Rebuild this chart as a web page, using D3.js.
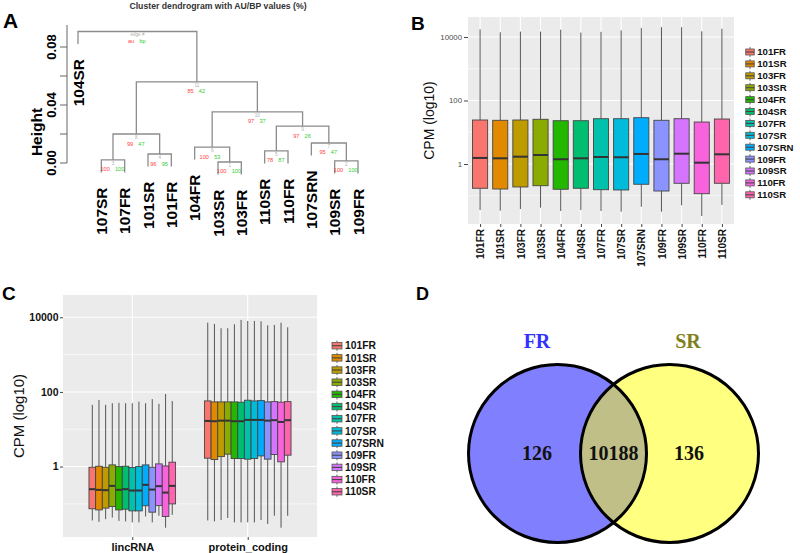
<!DOCTYPE html>
<html><head><meta charset="utf-8">
<script src="https://cdn.jsdelivr.net/npm/d3@7"></script>
<style>body{margin:0;background:#fff}svg{display:block}</style>
</head><body>
<svg id="c" width="800" height="553"></svg>
<script>
// ---------------- DATA ----------------
const samples = ["101FR","101SR","103FR","103SR","104FR","104SR","107FR","107SR","107SRN","109FR","109SR","110FR","110SR"];
const sampleColors = ["#F8766D","#E18A00","#BE9C00","#8CAB00","#24B700","#00BE70","#00C1AB","#00BBDA","#00ACFC","#8B93FF","#D575FE","#F962DD","#FF65AC"];

// Panel A: dendrogram
const dendroLeaves = ["104SR","107SR","107FR","101SR","101FR","104FR","103SR","103FR","110SR","110FR","107SRN","109SR","109FR"];
const mergeLeft   = ["103SR","109SR","107SR","101SR","110SR","104FR","107SRN",3,5,6,8,"104SR"];
const mergeRight  = ["103FR","109FR","107FR","101FR","110FR",1,2,4,7,9,10,11];
const mergeHeight = [0.0007,0.0014,0.0021,0.0062,0.0083,0.0110,0.0138,0.0200,0.0255,0.0352,0.0559,0.0907];
const mergeAU     = ["100","100","100","96","78","100","95","99","97","97","85","au"];
const mergeBP     = ["100","100","100","95","87","53","47","47","26","37","42","bp"];
const mergeEdge   = ["1","2","3","4","5","6","7","8","9","10","11","edge #"];
const heightTicks = [0,0.02,0.04,0.06,0.08];
const heightLabels = [0,0.04,0.08];

// Panel B: CPM per sample (log10 scale)
const bUpper = [17400,14100,14800,14800,17000,13800,14500,16200,19100,20400,20400,15100,18200];
const bQ3    = [24.3,23.8,24.3,25.6,23.1,23.1,26.7,26.7,28.7,23.8,26.7,21.0,26.1];
const bMed   = [1.55,1.51,1.70,1.92,1.41,1.51,1.66,1.63,2.07,1.41,2.11,1.10,2.02];
const bQ1    = [0.172,0.163,0.189,0.207,0.160,0.172,0.155,0.152,0.230,0.141,0.247,0.116,0.247];
const bLower = [0.0356,0.0338,0.0383,0.0421,0.0331,0.0356,0.0331,0.0315,0.0452,0.0315,0.050,0.023,0.0512];
const cpmMajor = [1,100,10000];
const cpmMinor = [0.1,10,1000];

// Panel C: CPM per biotype per sample
const biotypes = ["lincRNA","protein_coding"];
const lincUpper = [45,61,45,50,51,50,50,55,50,64,48,88,57];
const lincQ3    = [0.96,1.02,0.96,1.11,1.0,1.02,0.94,1.0,1.11,0.96,1.18,1.04,1.31];
const lincMed   = [0.248,0.238,0.233,0.304,0.238,0.248,0.228,0.228,0.324,0.242,0.299,0.201,0.304];
const lincQ1    = [0.074,0.069,0.077,0.085,0.069,0.072,0.065,0.065,0.089,0.060,0.090,0.046,0.100];
const lincLower = [0.036,0.033,0.039,0.043,0.035,0.034,0.032,0.032,0.046,0.032,0.048,0.023,0.051];
const pcUpper = [7170,6620,5080,5080,6500,8470,7960,7960,7820,6110,6220,7170,5400];
const pcQ3    = [57.4,54,54,54,54,53,59.9,57.4,58.5,54,55,53,55];
const pcMed   = [16.7,16.4,17.0,17.0,16.4,16.4,17.8,17.8,17.8,17.0,17.5,15.7,17.5];
const pcQ1    = [1.68,1.54,1.85,2.15,1.64,1.64,1.58,1.64,1.93,1.58,2.10,1.34,2.02];
const pcLower = [0.036,0.034,0.037,0.042,0.032,0.032,0.032,0.032,0.037,0.029,0.048,0.023,0.048];

// Panel D: Venn
const vennSets = ["FR","SR"];
const vennCounts = [126,10188,136]; // FR only, both, SR only

// ---------------- DRAW ----------------
const SANS = "'Liberation Sans', Arial, sans-serif";
const SERIF = "'Liberation Serif', 'Times New Roman', serif";
const svg = d3.select("#c");

function panelLetter(t,x,y,size){
  svg.append("text").attr("x",x).attr("y",y).text(t)
    .attr("font-family",SANS).attr("font-weight","bold").attr("font-size",size).attr("fill","#000");
}

// ===== Panel A =====
(function(){
  const g = svg.append("g");
  const x = d3.scalePoint().domain(dendroLeaves).range([78,358]);
  const y = d3.scaleLinear().domain([0,0.08]).range([163,47]);
  const hang = 0.0086;
  const nodeX = {}, nodeH = {}, leafEnd = {};
  const lineCol = "#8c8c8c";
  mergeHeight.forEach((h,i)=>{
    const id = i+1;
    const kids = [mergeLeft[i], mergeRight[i]].map(c=>{
      if (typeof c === "string") { leafEnd[c] = h - hang; return {x:x(c), bottom:h-hang}; }
      return {x:nodeX[c], bottom:nodeH[c]};
    });
    nodeX[id] = (kids[0].x + kids[1].x)/2; nodeH[id] = h;
    g.append("path")
      .attr("d", `M${kids[0].x},${y(kids[0].bottom)}V${y(h)}H${kids[1].x}V${y(kids[1].bottom)}`)
      .attr("fill","none").attr("stroke",lineCol).attr("stroke-width",1.3);
    const cx = nodeX[id], cy = y(h);
    g.append("text").attr("x",cx-3.2).attr("y",cy+11.5).attr("text-anchor","end").text(mergeAU[i])
      .attr("font-family",SANS).attr("font-size",5.6).attr("fill","#ff4040");
    g.append("text").attr("x",cx+2).attr("y",cy+11.5).attr("text-anchor","start").text(mergeBP[i])
      .attr("font-family",SANS).attr("font-size",5.6).attr("fill","#33cc33");
    g.append("text").attr("x",cx).attr("y",cy+5).attr("text-anchor","middle").text(mergeEdge[i])
      .attr("font-family",SANS).attr("font-size",4.6).attr("fill","#b0b0b0");
  });
  // leaf labels
  dendroLeaves.forEach(l=>{
    g.append("text").attr("transform",`translate(${x(l)},${y(leafEnd[l])+15}) rotate(-90)`)
      .attr("text-anchor","end").attr("dy","0.36em").text(l)
      .attr("font-family",SANS).attr("font-weight","bold").attr("font-size",15.5).attr("fill","#000");
  });
  // axis
  const ax = g.append("g").attr("transform","translate(67,0)");
  ax.append("line").attr("x1",0).attr("x2",0).attr("y1",y(0)).attr("y2",25).attr("stroke","#666").attr("stroke-width",1);
  heightTicks.forEach(t=>{
    ax.append("line").attr("x1",-7).attr("x2",0).attr("y1",y(t)).attr("y2",y(t)).attr("stroke","#666");
  });
  heightLabels.forEach(t=>{
    ax.append("text").attr("transform",`translate(-11,${y(t)}) rotate(-90)`).attr("text-anchor","middle")
      .text(d3.format(".2f")(t)).attr("font-family",SANS).attr("font-weight","bold").attr("font-size",13).attr("fill","#000");
  });
  g.append("text").attr("transform","translate(42,132) rotate(-90)").attr("text-anchor","middle").text("Height")
    .attr("font-family",SANS).attr("font-weight","bold").attr("font-size",15.5).attr("fill","#000");
  g.append("text").attr("x",218).attr("y",9).attr("text-anchor","middle").text("Cluster dendrogram with AU/BP values (%)")
    .attr("font-family",SANS).attr("font-weight","bold").attr("font-size",8.7).attr("fill","#333");
})();
panelLetter("A",3,28,21);

// ===== Boxplot helper =====
function drawBox(g, cx, w, y, lo, q1, med, q3, hi, color){
  g.append("line").attr("x1",cx).attr("x2",cx).attr("y1",y(hi)).attr("y2",y(q3)).attr("stroke","#555").attr("stroke-width",1);
  g.append("line").attr("x1",cx).attr("x2",cx).attr("y1",y(q1)).attr("y2",y(lo)).attr("stroke","#555").attr("stroke-width",1);
  g.append("rect").attr("x",cx-w/2).attr("y",y(q3)).attr("width",w).attr("height",y(q1)-y(q3))
    .attr("fill",color).attr("stroke","#444").attr("stroke-width",0.9);
  g.append("line").attr("x1",cx-w/2).attr("x2",cx+w/2).attr("y1",y(med)).attr("y2",y(med)).attr("stroke","#333").attr("stroke-width",2);
}
function legend(g, x0, y0, step, kw, kh, fs){
  samples.forEach((s,i)=>{
    const cy = y0 + i*step;
    g.append("line").attr("x1",x0).attr("x2",x0).attr("y1",cy-step/2+1).attr("y2",cy+step/2-1).attr("stroke","#666");
    g.append("rect").attr("x",x0-kw/2).attr("y",cy-kh/2).attr("width",kw).attr("height",kh)
      .attr("fill",sampleColors[i]).attr("stroke","#555").attr("stroke-width",0.8);
    g.append("line").attr("x1",x0-kw/2).attr("x2",x0+kw/2).attr("y1",cy).attr("y2",cy).attr("stroke","#444").attr("stroke-width",1.1);
    g.append("text").attr("x",x0+kw/2+3).attr("y",cy).attr("dy","0.36em").text(s)
      .attr("font-family",SANS).attr("font-weight","bold").attr("font-size",fs).attr("fill","#111");
  });
}

// ===== Panel B =====
(function(){
  const g = svg.append("g");
  const L=468,R=734,T=17,B=224;
  const x = d3.scalePoint().domain(samples).range([L,R]).padding(0.6);
  const y = d3.scaleLog().domain([Math.pow(10,-1.89),Math.pow(10,4.63)]).range([B,T]);
  g.append("rect").attr("x",L).attr("y",T).attr("width",R-L).attr("height",B-T).attr("fill","#EBEBEB");
  cpmMinor.forEach(v=>g.append("line").attr("x1",L).attr("x2",R).attr("y1",y(v)).attr("y2",y(v)).attr("stroke","#fff").attr("stroke-width",0.6));
  cpmMajor.forEach(v=>g.append("line").attr("x1",L).attr("x2",R).attr("y1",y(v)).attr("y2",y(v)).attr("stroke","#fff").attr("stroke-width",1.1));
  samples.forEach(s=>g.append("line").attr("x1",x(s)).attr("x2",x(s)).attr("y1",T).attr("y2",B).attr("stroke","#fff").attr("stroke-width",1.1));
  const w = x.step()*0.75;
  samples.forEach((s,i)=>drawBox(g,x(s),w,y,bLower[i],bQ1[i],bMed[i],bQ3[i],bUpper[i],sampleColors[i]));
  const ay = g.append("g").attr("transform",`translate(${L},0)`)
    .call(d3.axisLeft(y).tickValues(cpmMajor).tickFormat(d3.format("d")).tickSize(4).tickSizeOuter(0));
  ay.select(".domain").remove();
  ay.selectAll(".tick line").attr("stroke","#444");
  ay.selectAll(".tick text").attr("font-family",SANS).attr("font-size",7.8).attr("fill","#4d4d4d").attr("x",-6);
  const axb = g.append("g").attr("transform",`translate(0,${B})`)
    .call(d3.axisBottom(x).tickSize(3).tickSizeOuter(0));
  axb.select(".domain").remove();
  axb.selectAll(".tick line").attr("stroke","#444");
  axb.selectAll(".tick text").attr("transform","rotate(-90)").attr("text-anchor","end")
    .attr("x",-5).attr("y",0).attr("dy","0.36em")
    .attr("font-family",SANS).attr("font-weight","bold").attr("font-size",10).attr("fill","#111");
  g.append("text").attr("transform",`translate(434,${(T+B)/2}) rotate(-90)`).attr("text-anchor","middle").text("CPM (log10)")
    .attr("font-family",SANS).attr("font-size",14).attr("fill","#111");
  legend(g, 750, 52, 11.9, 8.5, 6, 9.6);
})();
panelLetter("B",411,30,19);

// ===== Panel C =====
(function(){
  const g = svg.append("g");
  const L=63,R=317,T=295,B=537;
  const x = d3.scalePoint().domain(biotypes).range([L,R]).padding(0.6);
  const y = d3.scaleLog().domain([Math.pow(10,-1.887),Math.pow(10,4.597)]).range([B,T]);
  g.append("rect").attr("x",L).attr("y",T).attr("width",R-L).attr("height",B-T).attr("fill","#EBEBEB");
  cpmMinor.forEach(v=>g.append("line").attr("x1",L).attr("x2",R).attr("y1",y(v)).attr("y2",y(v)).attr("stroke","#fff").attr("stroke-width",0.6));
  cpmMajor.forEach(v=>g.append("line").attr("x1",L).attr("x2",R).attr("y1",y(v)).attr("y2",y(v)).attr("stroke","#fff").attr("stroke-width",1.1));
  biotypes.forEach(b=>g.append("line").attr("x1",x(b)).attr("x2",x(b)).attr("y1",T).attr("y2",B).attr("stroke","#fff").attr("stroke-width",1.1));
  const gw = x.step()*0.75, bw = gw/samples.length;
  const sets = {
    lincRNA:[lincLower,lincQ1,lincMed,lincQ3,lincUpper],
    protein_coding:[pcLower,pcQ1,pcMed,pcQ3,pcUpper]
  };
  biotypes.forEach(b=>{
    const [lo,q1,md,q3,hi] = sets[b];
    samples.forEach((s,i)=>{
      const cx = x(b) - gw/2 + (i+0.5)*bw;
      drawBox(g,cx,bw,y,lo[i],q1[i],md[i],q3[i],hi[i],sampleColors[i]);
    });
  });
  const ay = g.append("g").attr("transform",`translate(${L},0)`)
    .call(d3.axisLeft(y).tickValues(cpmMajor).tickFormat(d3.format("d")).tickSize(3).tickSizeOuter(0));
  ay.select(".domain").remove();
  ay.selectAll(".tick line").attr("stroke","#444");
  ay.selectAll(".tick text").attr("font-family",SANS).attr("font-weight","bold").attr("font-size",10.5).attr("fill","#111").attr("x",-4.5);
  const axb = g.append("g").attr("transform",`translate(0,${B})`)
    .call(d3.axisBottom(x).tickSize(3).tickSizeOuter(0));
  axb.select(".domain").remove();
  axb.selectAll(".tick line").attr("stroke","#444");
  axb.selectAll(".tick text").attr("y",6).attr("dy","0.71em")
    .attr("font-family",SANS).attr("font-weight","bold").attr("font-size",11).attr("fill","#111");
  g.append("text").attr("transform",`translate(24,${(T+B)/2}) rotate(-90)`).attr("text-anchor","middle").text("CPM (log10)")
    .attr("font-family",SANS).attr("font-size",15).attr("fill","#111");
  legend(g, 337, 345.7, 12.17, 10, 6.5, 10.3);
})();
panelLetter("C",2,300,19);

// ===== Panel D =====
(function(){
  const g = svg.append("g");
  const r = 89, cy = 453.5, cxs = [557.5, 669.5];
  const defs = svg.append("defs");
  defs.append("clipPath").attr("id","clipL").append("circle").attr("cx",cxs[0]).attr("cy",cy).attr("r",r);
  g.append("circle").attr("cx",cxs[0]).attr("cy",cy).attr("r",r).attr("fill","#8080ff");
  g.append("circle").attr("cx",cxs[1]).attr("cy",cy).attr("r",r).attr("fill","#ffff80");
  g.append("circle").attr("cx",cxs[1]).attr("cy",cy).attr("r",r).attr("fill","#bfbf87").attr("clip-path","url(#clipL)");
  cxs.forEach(c=>g.append("circle").attr("cx",c).attr("cy",cy).attr("r",r).attr("fill","none").attr("stroke","#000").attr("stroke-width",3));
  const setCols = ["#3232ff","#808020"];
  const labelX = [537,688];
  vennSets.forEach((s,i)=>g.append("text").attr("x",labelX[i]).attr("y",348).attr("text-anchor","middle").text(s)
    .attr("font-family",SERIF).attr("font-weight","bold").attr("font-size",20).attr("fill",setCols[i]));
  const numX = [537,613.5,689];
  vennCounts.forEach((n,i)=>g.append("text").attr("x",numX[i]).attr("y",460).attr("text-anchor","middle").text(n)
    .attr("font-family",SERIF).attr("font-weight","bold").attr("font-size",20).attr("fill","#111"));
})();
panelLetter("D",416,300,18);
</script>
</body></html>
